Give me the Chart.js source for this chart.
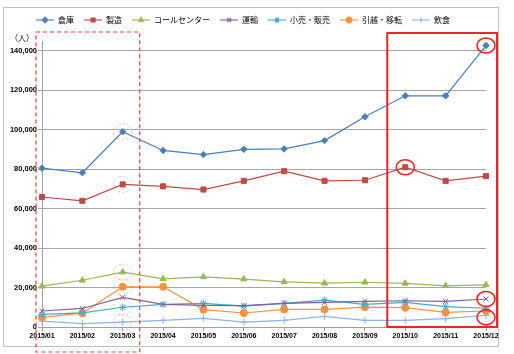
<!DOCTYPE html>
<html>
<head>
<meta charset="utf-8">
<script src="https://cdn.jsdelivr.net/npm/chart.js@4.4.1/dist/chart.umd.min.js"></script>
<style>
  html, body { margin: 0; padding: 0; background: #fff; }
</style>
</head>
<body>
<canvas id="chart" width="514" height="354"></canvas>
<script>
// data
var months = ['2015/01', '2015/02', '2015/03', '2015/04', '2015/05', '2015/06',
              '2015/07', '2015/08', '2015/09', '2015/10', '2015/11', '2015/12'];
var souko    = [80500, 78200, 99000, 89500, 87400, 90100, 90300, 94500, 106600, 117200, 117200, 142700];
var seizou   = [65900, 64000, 72300, 71300, 69700, 74100, 79000, 74100, 74400, 81000, 74100, 76500];
var call     = [20700, 23700, 27800, 24400, 25400, 24300, 22900, 22200, 22700, 22100, 20900, 21400];
var unyu     = [8100, 9400, 15000, 11500, 11000, 10800, 12000, 12500, 13000, 13300, 13000, 14200];
var kouri    = [6400, 7200, 10000, 11500, 12000, 10600, 12000, 13600, 11500, 12500, 10300, 9500];
var hikkoshi = [4900, 7000, 20400, 20400, 8800, 7100, 8900, 8900, 10100, 9800, 7400, 8100];
var inshoku  = [3000, 1700, 2500, 3400, 4400, 2500, 3400, 5400, 3400, 3400, 4200, 5900];
var yTicks   = [0, 20000, 40000, 60000, 80000, 100000, 120000, 140000];

var series = [
    { label: '倉庫', data: souko, color: '#4a7ebb', style: 'rectRot', r: 3.2 },
    { label: '製造', data: seizou, color: '#be4b48', style: 'rect', r: 3.6 },
    { label: 'コールセンター', data: call, color: '#98b954', style: 'triangle', r: 3.6 },
    { label: '運輸', data: unyu, color: '#7d60a0', style: 'crossRot', r: 3.6 },
    { label: '小売・販売', data: kouri, color: '#46aac5', style: 'star', r: 3.6 },
    { label: '引越・移転', data: hikkoshi, color: '#f69240', style: 'circle', r: 3.6 },
    { label: '飲食', data: inshoku, color: '#8eb4e3', style: 'cross', r: 3.6 }
];

// legend sample: short line with the marker in the middle
function sample(s) {
    var c = document.createElement('canvas');
    c.width = 18; c.height = 9;
    var g = c.getContext('2d');
    g.strokeStyle = s.color;
    g.fillStyle = s.color;
    g.lineWidth = 1.2;
    g.beginPath(); g.moveTo(0, 4.5); g.lineTo(18, 4.5); g.stroke();
    Chart.helpers.drawPoint(g, { pointStyle: s.style, radius: 2.8, borderWidth: 1 }, 9, 4.5);
    return c;
}

var marks = {
    id: 'marks',
    beforeLayout: function(chart) {
        // leave a bit more room under the legend
        var lg = chart.legend;
        if (lg && !lg._patched) {
            var fit = lg.fit;
            lg.fit = function() { fit.call(this); this.height += 7; };
            lg._patched = true;
        }
    },
    beforeDraw: function(chart) {
        var ctx = chart.ctx;
        ctx.save();
        ctx.strokeStyle = '#c0c0c0';
        ctx.lineWidth = 1;
        ctx.strokeRect(3.5, 7.5, 495, 339);
        ctx.fillStyle = '#000';
        ctx.font = '8px "Noto Sans CJK JP"';
        ctx.textAlign = 'center';
        ctx.textBaseline = 'middle';
        ctx.fillText('（人）', 22, 38);
        ctx.restore();
    },
    afterDatasetsDraw: function(chart) {
        var ctx = chart.ctx;
        var x = chart.scales.x, a = chart.chartArea;
        ctx.save();
        // dashed box round the first quarter
        ctx.strokeStyle = '#e8403f';
        ctx.lineWidth = 1.2;
        ctx.setLineDash([4, 3]);
        var x0 = x.getPixelForValue(0) - 6, x1 = x.getPixelForValue(2) + 17;
        ctx.strokeRect(x0, a.top - 9, x1 - x0, a.bottom - a.top + 34);
        // faint dashed circles at 2015/03
        ctx.strokeStyle = 'rgba(240,110,110,0.55)';
        ctx.lineWidth = 0.8;
        ctx.setLineDash([2, 2]);
        [0, 1, 2, 5, 4, 6].forEach(function(i) {
            var p = chart.getDatasetMeta(i).data[2];
            ctx.beginPath();
            ctx.ellipse(p.x, p.y, 9, 8, 0, 0, Math.PI * 2);
            ctx.stroke();
        });
        // solid box round the last quarter
        ctx.setLineDash([]);
        ctx.strokeStyle = '#e8262b';
        ctx.lineWidth = 2;
        var x2 = x.getPixelForValue(9) - 18, x3 = x.getPixelForValue(11) + 11;
        ctx.strokeRect(x2, a.top - 8, x3 - x2, a.bottom - a.top + 8);
        // red circles
        ctx.lineWidth = 1.6;
        [[0, 11], [1, 9], [3, 11], [6, 11]].forEach(function(d) {
            var p = chart.getDatasetMeta(d[0]).data[d[1]];
            ctx.beginPath();
            ctx.ellipse(p.x, p.y + (d[0] === 6 ? 2 : 0), 9, 7.5, 0, 0, Math.PI * 2);
            ctx.stroke();
        });
        ctx.restore();
    }
};

var ctx = document.getElementById('chart').getContext('2d');
var chart = new Chart(ctx, {
    type: 'line',
    data: {
        labels: months,
        datasets: series.map(function(s) {
            return {
                label: s.label,
                data: s.data,
                borderColor: s.color,
                backgroundColor: s.color,
                borderWidth: 1.2,
                pointStyle: s.style,
                pointRadius: s.r,
                pointBorderWidth: 1,
                pointBackgroundColor: s.color,
                pointBorderColor: s.color,
                tension: 0,
                sample: sample(s)
            };
        })
    },
    options: {
        responsive: false,
        animation: false,
        layout: { padding: { left: 0, right: 28, top: 6, bottom: 0 } },
        plugins: {
            tooltip: { enabled: false },
            legend: {
                position: 'top',
                labels: {
                    usePointStyle: true,
                    pointStyleWidth: 18,
                    padding: 10,
                    color: '#000',
                    font: { family: '"Noto Sans CJK JP"', size: 8 },
                    generateLabels: function(chart) {
                        return chart.data.datasets.map(function(d, i) {
                            return {
                                text: d.label,
                                pointStyle: d.sample,
                                fillStyle: d.borderColor,
                                strokeStyle: d.borderColor,
                                lineWidth: 0,
                                fontColor: '#000',
                                datasetIndex: i
                            };
                        });
                    }
                }
            }
        },
        scales: {
            x: {
                offset: false,
                grid: { display: true, drawOnChartArea: false, drawTicks: true, tickLength: 4, color: '#a0a0a0' },
                border: { color: '#a0a0a0' },
                ticks: {
                    color: '#000',
                    font: { family: '"Liberation Sans"', size: 7, weight: 'bold' },
                    maxRotation: 0,
                    autoSkip: false,
                    padding: 1
                },
                afterFit: function(scale) { scale.height = 27; }
            },
            y: {
                min: 0,
                max: 145000,
                afterBuildTicks: function(scale) {
                    scale.ticks = yTicks.map(function(v) { return { value: v }; });
                },
                grid: { color: '#a6a6a6', tickLength: 4 },
                border: { color: '#a0a0a0' },
                ticks: {
                    color: '#000',
                    font: { family: '"Liberation Sans"', size: 7.5, weight: 'bold' },
                    padding: 1,
                    callback: function(v) { return v.toLocaleString('en-US'); }
                },
                afterFit: function(scale) { scale.width = 42; }
            }
        }
    },
    plugins: [marks]
});
</script>
</body>
</html>
